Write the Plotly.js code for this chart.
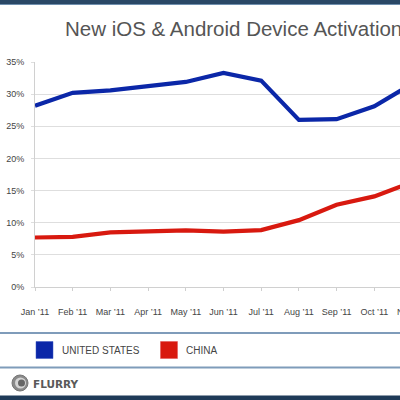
<!DOCTYPE html>
<html>
<head>
<meta charset="utf-8">
<script src="https://cdn.plot.ly/plotly-3.0.1.min.js"></script>
<style>
html,body{margin:0;padding:0;overflow:hidden;background:#fff;width:400px;height:400px;}
#chart{width:420px;height:400px;}
</style>
</head>
<body>
<div id="chart"></div>
<script>
var months = ["Jan \u201911","Feb \u201911","Mar \u201911","Apr \u201911","May \u201911","Jun \u201911","Jul \u201911","Aug \u201911","Sep \u201911","Oct \u201911","Nov \u201911"];
var unitedStates = [28.2, 30.2, 30.6, 31.2, 31.9, 33.3, 32.1, 26.0, 26.1, 28.1, 31.6];
var china = [7.7, 7.8, 8.5, 8.7, 8.8, 8.6, 8.85, 10.4, 12.8, 14.1, 16.3];
var yTicks = [0, 5, 10, 15, 20, 25, 30, 35];
var seriesNames = ["UNITED STATES", "CHINA"];
var seriesColors = ["#0b27a8", "#d8190f"];

var W = 420, H = 400, ML = 35, MR = 8, MT = 62, MB = 113;
var PW = W - ML - MR, PH = H - MT - MB;
function px(x){ return (x - ML) / PW; }
function py(y){ return (H - MB - y) / PH; }

var traces = [
  {x: months, y: unitedStates, type: 'scatter', mode: 'lines', name: seriesNames[0],
   line: {color: seriesColors[0], width: 4.2, shape: 'linear'}, hoverinfo: 'skip'},
  {x: months, y: china, type: 'scatter', mode: 'lines', name: seriesNames[1],
   line: {color: seriesColors[1], width: 4.2, shape: 'linear'}, hoverinfo: 'skip'}
];

var shapes = [
  {type:'rect', xref:'paper', yref:'paper', x0:px(-5), x1:px(W+5), y0:py(4.5), y1:py(-2), fillcolor:'#2a4866', line:{width:0}, layer:'above'},
  {type:'line', xref:'paper', yref:'paper', x0:px(-5), x1:px(W+5), y0:py(4.5), y1:py(4.5), line:{color:'#6f8fae', width:1}},
  {type:'line', xref:'paper', yref:'paper', x0:px(-5), x1:px(W+5), y0:py(333), y1:py(333), line:{color:'#7f9cba', width:2}},
  {type:'line', xref:'paper', yref:'paper', x0:px(-5), x1:px(W+5), y0:py(367.5), y1:py(367.5), line:{color:'#7f9cba', width:2}},
  {type:'rect', xref:'paper', yref:'paper', x0:px(-5), x1:px(W+5), y0:py(402), y1:py(395.5), fillcolor:'#1f3b58', line:{width:0}},
  {type:'rect', xref:'paper', yref:'paper', x0:px(36), x1:px(53), y0:py(358.5), y1:py(341.5), fillcolor:seriesColors[0], line:{color:'#3a56c0', width:0.5}},
  {type:'rect', xref:'paper', yref:'paper', x0:px(160.5), x1:px(177.5), y0:py(358.5), y1:py(341.5), fillcolor:seriesColors[1], line:{color:'#e05050', width:0.5}},
  {type:'circle', xref:'paper', yref:'paper', x0:px(12), x1:px(28), y0:py(391), y1:py(375), fillcolor:'#8a8a8a', line:{color:'#777', width:1}},
  {type:'circle', xref:'paper', yref:'paper', x0:px(15), x1:px(26), y0:py(388.5), y1:py(377.5), fillcolor:'#d5d5d5', line:{width:0}},
  {type:'circle', xref:'paper', yref:'paper', x0:px(18), x1:px(25), y0:py(386.5), y1:py(379.5), fillcolor:'#666', line:{width:0}}
];

var annotations = [
  {xref:'paper', yref:'paper', x:px(60), y:py(350), xanchor:'left', yanchor:'middle', showarrow:false,
   text: seriesNames[0], font:{family:'Liberation Sans, Arial, sans-serif', size:10, color:'#454545'}},
  {xref:'paper', yref:'paper', x:px(184), y:py(350), xanchor:'left', yanchor:'middle', showarrow:false,
   text: seriesNames[1], font:{family:'Liberation Sans, Arial, sans-serif', size:10, color:'#454545'}},
  {xref:'paper', yref:'paper', x:px(31), y:py(383.5), xanchor:'left', yanchor:'middle', showarrow:false,
   text: '<b>FLURRY</b>', font:{family:'DejaVu Sans, sans-serif', size:10.5, color:'#5a5a5a'}}
];

var layout = {
  width: W, height: H,
  margin: {l: ML, r: MR, t: MT, b: MB, pad: 0},
  paper_bgcolor: '#fff', plot_bgcolor: '#fff',
  showlegend: false,
  title: {text: 'New iOS &amp; Android Device Activations', x: 65/W, xanchor: 'left', xref: 'container',
          y: 1 - 28.5/H, yanchor: 'middle', yref: 'container',
          font: {family: 'Liberation Sans, Arial, sans-serif', size: 20.5, color: '#555'}},
  xaxis: {type: 'category', range: [0, months.length - 1], showgrid: false, zeroline: false,
          showline: true, linecolor: '#d0d0d0', linewidth: 1,
          ticks: 'outside', ticklen: 3, tickcolor: '#cfcfcf', ticklabelstandoff: 13,
          tickfont: {family: 'Liberation Sans, Arial, sans-serif', size: 9, color: '#444'}, fixedrange: true},
  yaxis: {range: [0, 35], tickvals: yTicks, ticktext: yTicks.map(function(v){return v + '%';}),
          showgrid: true, gridcolor: '#dedede', gridwidth: 1, zeroline: false,
          showline: true, linecolor: '#d0d0d0', linewidth: 1,
          ticks: 'outside', ticklen: 3, tickcolor: '#dedede', ticklabelstandoff: 5,
          tickfont: {family: 'Liberation Sans, Arial, sans-serif', size: 9, color: '#444'}, fixedrange: true},
  shapes: shapes,
  annotations: annotations
};

Plotly.newPlot('chart', traces, layout, {staticPlot: true, displayModeBar: false});
</script>
</body>
</html>
